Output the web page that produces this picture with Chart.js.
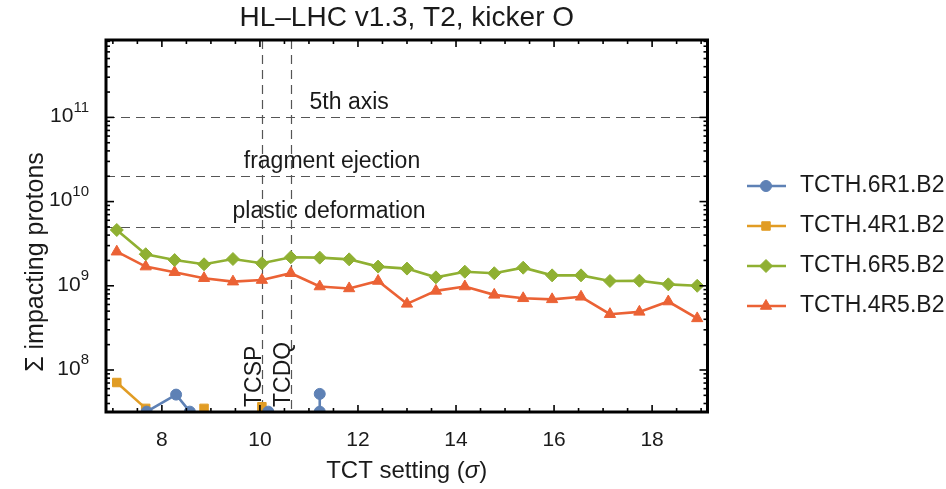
<!DOCTYPE html>
<html>
<head>
<meta charset="utf-8">
<script src="https://cdn.jsdelivr.net/npm/chart.js@4.4.1/dist/chart.umd.min.js"></script>
<style>
  html, body { margin: 0; padding: 0; background: #fff; }
</style>
</head>
<body>
<canvas id="chart" width="946" height="489"></canvas>
<script>
const SANS = '"Liberation Sans", Arial, Helvetica, sans-serif';
const TEXT = '#1a1a1a';

// axis ranges and ticks
const xMin = 6.86, xMax = 19.13;
const yMin = 3.17e7, yMax = 8.3e11;
const xTickLabels = [8, 10, 12, 14, 16, 18];
const yTickExponents = [8, 9, 10, 11];

// damage thresholds (horizontal dashed lines)
const limitValues = [1e11, 2e10, 5e9];
const limitNames = ['5th axis', 'fragment ejection', 'plastic deformation'];
const limitLabelX = [11.82, 11.47, 11.41];

// other collimators settings (vertical dashed lines)
const collimatorNames = ['TCSP', 'TCDQ'];
const collimatorSigma = [10.05, 10.63];

// TCT setting in sigma for each case
const tctSigma = [7.08, 7.67, 8.26, 8.86, 9.45, 10.04, 10.63, 11.22, 11.82, 12.41, 13.0,
  13.59, 14.18, 14.78, 15.37, 15.96, 16.55, 17.14, 17.74, 18.33, 18.92];

const seriesNames = ['TCTH.6R1.B2', 'TCTH.4R1.B2', 'TCTH.6R5.B2', 'TCTH.4R5.B2'];

// TCTH.6R1 has few hits, mostly below the plot floor
const tcth6R1Sigma = [7.69, 8.29, 8.57, 8.57, 10.17, 10.17, 11.22, 11.22];
const tcth6R1 = [3.2e7, 5.1e7, 3.2e7, null, 3.2e7, null, 5.2e7, 3.2e7];

const tcth4R1 = [7.1e7, 3.5e7, null, 3.5e7, null, 3.66e7, null, null, null, null, null,
  null, null, null, null, null, null, null, null, null, null];

const tcth6R5 = [4.6e9, 2.37e9, 2.02e9, 1.8e9, 2.08e9, 1.85e9, 2.18e9, 2.16e9, 2.06e9, 1.69e9, 1.6e9,
  1.26e9, 1.47e9, 1.41e9, 1.64e9, 1.33e9, 1.33e9, 1.14e9, 1.15e9, 1.04e9, 1.0e9];

const tcth4R5 = [2.54e9, 1.69e9, 1.45e9, 1.23e9, 1.12e9, 1.17e9, 1.41e9, 9.8e8, 9.3e8, 1.14e9, 6.1e8,
  8.7e8, 9.8e8, 7.8e8, 7.1e8, 6.9e8, 7.4e8, 4.6e8, 4.9e8, 6.5e8, 4.1e8];

const colors = ['#5E81B5', '#E19C24', '#8FB032', '#EB6235'];
const markers = ['circle', 'rect', 'rectRot', 'triangle'];
const markerSize = [5.5, 6, 6.5, 6.5];

function font(size, style) {
  return (style ? style + ' ' : '') + size + 'px ' + SANS;
}

function toPoints(xs, ys) {
  return xs.map((x, i) => ({x: x, y: ys[i]}));
}

function makeDataset(i, points) {
  return {
    label: seriesNames[i],
    data: points,
    borderColor: colors[i],
    backgroundColor: colors[i],
    borderWidth: 2.6,
    pointStyle: markers[i],
    pointRadius: markerSize[i],
    pointBorderWidth: 1,
    pointBorderColor: colors[i],
    tension: 0,
    spanGaps: false,
    clip: 0
  };
}

function strokeLine(ctx, x1, y1, x2, y2) {
  ctx.beginPath();
  ctx.moveTo(x1, y1);
  ctx.lineTo(x2, y2);
  ctx.stroke();
}

const decorations = {
  id: 'decorations',
  beforeDatasetsDraw(chart) {
    const {ctx, chartArea: a, scales: {x, y}} = chart;
    ctx.save();
    ctx.strokeStyle = '#555';
    ctx.lineWidth = 1.2;
    ctx.setLineDash([9, 6]);
    limitValues.forEach(v => {
      const py = Math.round(y.getPixelForValue(v)) + 0.5;
      strokeLine(ctx, a.left, py, a.right, py);
    });
    collimatorSigma.forEach(s => {
      const px = Math.round(x.getPixelForValue(s)) + 0.5;
      strokeLine(ctx, px, a.top, px, a.bottom);
    });
    ctx.setLineDash([]);

    ctx.fillStyle = TEXT;
    ctx.font = font(23);
    ctx.textAlign = 'center';
    ctx.textBaseline = 'middle';
    limitNames.forEach((name, i) => {
      ctx.fillText(name, x.getPixelForValue(limitLabelX[i]), y.getPixelForValue(limitValues[i]) - 15);
    });
    collimatorNames.forEach((name, i) => {
      const px = x.getPixelForValue(collimatorSigma[i]);
      ctx.save();
      ctx.translate(px - 1, a.bottom - 5);
      ctx.rotate(-Math.PI / 2);
      ctx.textAlign = 'left';
      ctx.textBaseline = 'alphabetic';
      ctx.fillText(name, 0, 0);
      ctx.restore();
    });
    ctx.restore();
  },

  afterDatasetsDraw(chart) {
    const {ctx, chartArea: a, scales: {x, y}} = chart;
    ctx.save();
    ctx.strokeStyle = '#000';
    ctx.lineWidth = 1.6;
    // x ticks, every half sigma, on bottom and top
    for (let v = Math.ceil(xMin * 2) / 2; v <= xMax; v += 0.5) {
      const px = x.getPixelForValue(v);
      const len = xTickLabels.includes(v) ? 7 : 4;
      strokeLine(ctx, px, a.bottom, px, a.bottom - len);
      strokeLine(ctx, px, a.top, px, a.top + len);
    }
    // log ticks on left and right
    for (let e = Math.floor(Math.log10(yMin)); e <= Math.ceil(Math.log10(yMax)); e++) {
      for (let k = 1; k <= 9; k++) {
        const v = k * Math.pow(10, e);
        if (v < yMin || v > yMax) continue;
        const py = y.getPixelForValue(v);
        const len = k === 1 ? 8 : 4;
        strokeLine(ctx, a.left, py, a.left + len, py);
        strokeLine(ctx, a.right, py, a.right - len, py);
      }
    }
    ctx.lineWidth = 3;
    ctx.strokeRect(a.left, a.top, a.right - a.left, a.bottom - a.top);
    ctx.restore();
  },

  afterDraw(chart) {
    const {ctx, chartArea: a, scales: {x, y}} = chart;
    const cx = (a.left + a.right) / 2;
    ctx.save();
    ctx.fillStyle = TEXT;
    ctx.textBaseline = 'middle';

    // title
    ctx.font = font(28);
    ctx.textAlign = 'center';
    ctx.fillText('HL\u2013LHC v1.3, T2, kicker O', cx, 18);

    // x tick labels
    ctx.font = font(21);
    xTickLabels.forEach(v => ctx.fillText(String(v), x.getPixelForValue(v), 440));

    // y tick labels, 10 with superscript exponent
    ctx.textAlign = 'left';
    yTickExponents.forEach(e => {
      const py = y.getPixelForValue(Math.pow(10, e));
      ctx.font = font(15);
      const ws = ctx.measureText(String(e)).width;
      ctx.font = font(21);
      const wb = ctx.measureText('10').width;
      const right = a.left - 17;
      ctx.fillText('10', right - ws - wb, py - 1);
      ctx.font = font(15);
      ctx.fillText(String(e), right - ws, py - 10);
    });

    // x axis title with italic sigma
    ctx.font = font(24);
    const p1 = 'TCT setting (', p3 = ')';
    const w1 = ctx.measureText(p1).width, w3 = ctx.measureText(p3).width;
    ctx.font = font(24, 'italic');
    const w2 = ctx.measureText('\u03c3').width;
    let tx = cx - (w1 + w2 + w3) / 2;
    ctx.font = font(24);
    ctx.fillText(p1, tx, 471);
    ctx.font = font(24, 'italic');
    ctx.fillText('\u03c3', tx + w1, 471);
    ctx.font = font(24);
    ctx.fillText(p3, tx + w1 + w2, 471);

    // y axis title
    ctx.save();
    ctx.translate(36, 262);
    ctx.rotate(-Math.PI / 2);
    ctx.textAlign = 'center';
    ctx.font = font(25);
    ctx.fillText('\u03a3 impacting protons', 0, 0);
    ctx.restore();

    // legend: line with marker, then name
    chart.data.datasets.forEach((ds, i) => {
      const ly = 186 + i * 40;
      ctx.strokeStyle = ds.borderColor;
      ctx.lineWidth = ds.borderWidth;
      strokeLine(ctx, 747, ly, 786, ly);
      ctx.fillStyle = ds.backgroundColor;
      ctx.strokeStyle = ds.borderColor;
      ctx.lineWidth = 1;
      Chart.helpers.drawPoint(ctx, {pointStyle: ds.pointStyle, radius: ds.pointRadius, rotation: 0, borderWidth: 1}, 766, ly);
      ctx.fillStyle = TEXT;
      ctx.textAlign = 'left';
      ctx.font = font(23);
      ctx.fillText(ds.label, 800, ly);
    });
    ctx.restore();
  }
};

new Chart(document.getElementById('chart').getContext('2d'), {
  type: 'line',
  data: {
    datasets: [
      makeDataset(0, toPoints(tcth6R1Sigma, tcth6R1)),
      makeDataset(1, toPoints(tctSigma, tcth4R1)),
      makeDataset(2, toPoints(tctSigma, tcth6R5)),
      makeDataset(3, toPoints(tctSigma, tcth4R5))
    ]
  },
  options: {
    responsive: false,
    animation: false,
    devicePixelRatio: 1,
    layout: {
      padding: {left: 106, right: 238.5, top: 40, bottom: 77}
    },
    scales: {
      x: {type: 'linear', display: false, min: xMin, max: xMax},
      y: {type: 'logarithmic', display: false, min: yMin, max: yMax}
    },
    plugins: {
      legend: {display: false},
      tooltip: {enabled: false}
    }
  },
  plugins: [decorations]
});
</script>
</body>
</html>
